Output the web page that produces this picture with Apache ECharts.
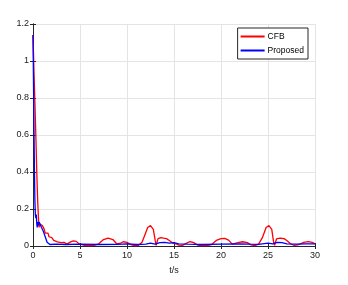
<!DOCTYPE html>
<html>
<head>
<meta charset="utf-8">
<script src="https://cdn.jsdelivr.net/npm/echarts@6/dist/echarts.min.js"></script>
<style>html,body{margin:0;padding:0;background:#fff;}#c{width:348px;height:285px;}</style>
</head>
<body>
<div id="c"></div>
<script>
var cfbT = [0,0.1,0.2,0.3,0.4,0.5,0.6,0.65,0.7,0.8,0.9,1.0,1.1,1.2,1.3,1.4,1.5,1.6,1.7,1.8,1.9,2.0,2.2,2.4,2.6,2.8,3.0,3.3,3.6,3.8,4.0,4.3,4.6,4.9,5.1,5.5,6.0,6.5,7.0,7.5,8.0,8.5,8.9,9.1,9.3,9.6,10.0,10.4,10.8,11.2,11.6,11.9,12.2,12.5,12.8,13.0,13.1,13.3,13.6,13.9,14.2,14.5,14.9,15.2,15.5,15.9,16.3,16.7,17.1,17.5,18.0,18.5,19.0,19.5,20.0,20.4,20.8,21.2,21.4,21.8,22.3,22.8,23.2,23.6,24.0,24.4,24.8,25.1,25.4,25.6,25.7,25.9,26.3,26.7,27.0,27.4,27.8,28.3,28.8,29.3,29.7,30.0];
var cfbV = [1.14,0.95,0.78,0.6,0.4,0.24,0.13,0.1,0.12,0.11,0.13,0.11,0.12,0.09,0.07,0.08,0.06,0.07,0.05,0.055,0.04,0.045,0.03,0.035,0.022,0.026,0.018,0.02,0.01,0.012,0.022,0.028,0.025,0.012,0.002,0.003,0.002,0.003,0.012,0.035,0.043,0.035,0.012,0.003,0.015,0.023,0.02,0.008,0.002,0.003,0.02,0.06,0.1,0.11,0.09,0.03,0.003,0.04,0.045,0.042,0.04,0.03,0.015,0.012,0.005,0.003,0.015,0.024,0.018,0.005,0.002,0.002,0.008,0.03,0.04,0.041,0.032,0.01,0.003,0.018,0.023,0.018,0.006,0.002,0.01,0.045,0.1,0.11,0.09,0.02,0.004,0.038,0.042,0.04,0.03,0.012,0.003,0.008,0.02,0.024,0.02,0.012];
var propT = [0,0.05,0.1,0.15,0.2,0.25,0.3,0.35,0.4,0.45,0.5,0.55,0.6,0.65,0.7,0.8,0.9,1.0,1.1,1.2,1.3,1.4,1.5,1.6,1.8,2.5,3.5,5,7,9,10,11,12,12.5,13,13.5,14,14.5,15,15.5,16.5,18,20,22,23,24,25,25.5,26,26.5,27,28,29,30];
var propV = [1.14,0.9,0.65,0.42,0.25,0.17,0.15,0.17,0.12,0.1,0.13,0.11,0.1,0.13,0.12,0.13,0.1,0.11,0.08,0.07,0.05,0.04,0.02,0.01,0.008,0.01,0.008,0.01,0.008,0.009,0.012,0.008,0.01,0.015,0.01,0.018,0.02,0.015,0.018,0.012,0.01,0.008,0.01,0.012,0.01,0.009,0.015,0.012,0.02,0.018,0.012,0.01,0.012,0.012];
var xTicks = [0,5,10,15,20,25,30];
var yTicks = [0,0.2,0.4,0.6,0.8,1,1.2];
var seriesNames = ['CFB','Proposed'];

function pairs(t, v){ return t.map(function(x,i){ return [x, v[i]]; }); }

var axisCol = '#262626';
var chart = echarts.init(document.getElementById('c'));
chart.setOption({
  animation: false,
  backgroundColor: '#fff',
  textStyle: {fontFamily: 'Liberation Sans, Arial, sans-serif'},
  grid: {left: 33, top: 24, width: 282, height: 222, show: false},
  legend: {
    right: 40, top: 28,
    orient: 'vertical',
    data: seriesNames,
    backgroundColor: '#fff',
    borderColor: axisCol, borderWidth: 1, borderRadius: 0,
    padding: [4, 4, 4, 3],
    itemGap: 5,
    itemWidth: 24, itemHeight: 2,
    icon: 'rect',
    textStyle: {fontSize: 8.5, color: '#000', padding: [0,0,0,-2]}
  },
  xAxis: [{
    type: 'value', min: 0, max: 30, interval: 5,
    name: 't/s', nameLocation: 'middle', nameGap: 20,
    nameTextStyle: {fontSize: 9, color: '#222'},
    axisLine: {onZero: false, lineStyle: {color: axisCol, width: 1}},
    axisTick: {inside: true, length: 3, lineStyle: {color: axisCol}},
    axisLabel: {fontSize: 9, color: '#222', margin: 5},
    splitLine: {show: true, lineStyle: {color: '#e4e4e4', width: 1}}
  },{
    type: 'value', min: 0, max: 30, interval: 5, position: 'top',
    axisLine: {show: true, lineStyle: {color: axisCol}},
    axisTick: {inside: true, length: 3, lineStyle: {color: axisCol}},
    axisLabel: {show: false}, splitLine: {show: false}
  }],
  yAxis: [{
    type: 'value', min: 0, max: 1.2, interval: 0.2,
    axisLine: {show: true, onZero: false, lineStyle: {color: axisCol, width: 1}},
    axisTick: {show: true, inside: true, length: 3, lineStyle: {color: axisCol}},
    axisLabel: {fontSize: 9, color: '#222', margin: 4,
      formatter: function(v){ return String(Math.round(v*10)/10); }},
    splitLine: {show: true, lineStyle: {color: '#e4e4e4', width: 1}}
  },{
    type: 'value', min: 0, max: 1.2, interval: 0.2, position: 'right',
    axisLine: {show: true, lineStyle: {color: axisCol}},
    axisTick: {show: true, inside: true, length: 3, lineStyle: {color: axisCol}},
    axisLabel: {show: false}, splitLine: {show: false}
  }],
  series: [{
    name: seriesNames[0], type: 'line', data: pairs(cfbT, cfbV),
    showSymbol: false, symbol: 'none', color: '#ff0000',
    lineStyle: {color: '#ff0000', width: 1.3}, z: 3
  },{
    name: seriesNames[1], type: 'line', data: pairs(propT, propV),
    showSymbol: false, symbol: 'none', color: '#0000ff',
    lineStyle: {color: '#0000ff', width: 1.3}, z: 4
  }]
});
</script>
</body>
</html>
